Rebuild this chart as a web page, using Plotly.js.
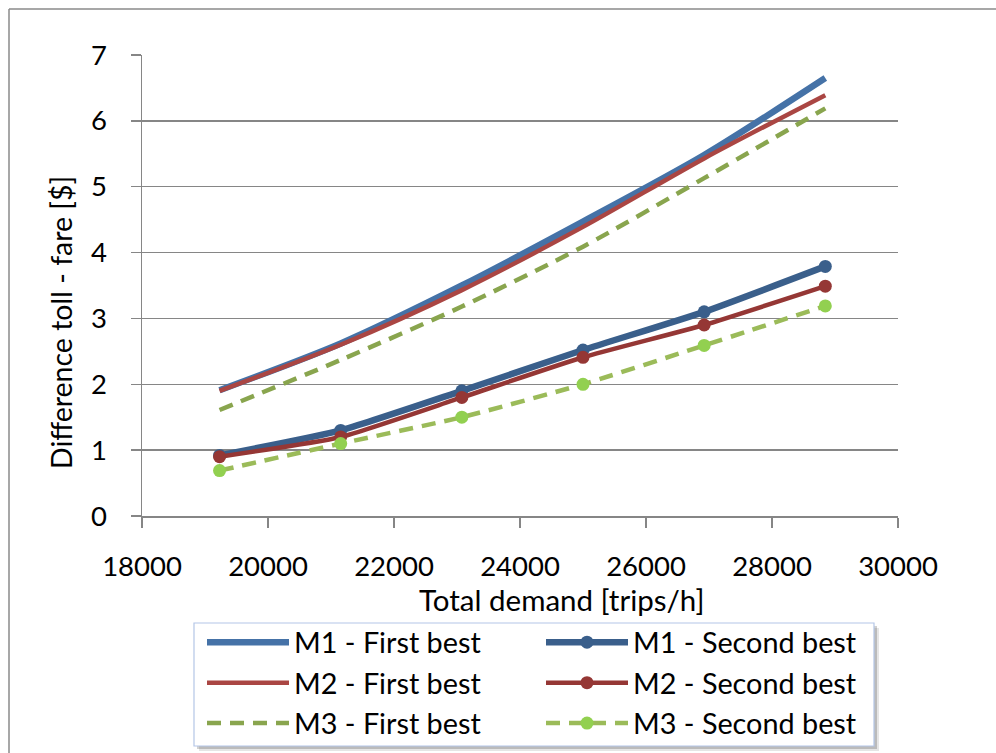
<!DOCTYPE html>
<html>
<head>
<meta charset="utf-8">
<script src="https://cdn.plot.ly/plotly-3.0.1.min.js"></script>
<style>
html,body{margin:0;padding:0;background:#fff;}
#chart{width:996px;height:753px;}
</style>
</head>
<body>
<div id="chart"></div>
<script>
// ---- data ----
const demand = [19231, 21154, 23077, 25000, 26923, 28846];
const m1First = [1.91, 2.62, 3.50, 4.47, 5.48, 6.65];
const m2First = [1.90, 2.60, 3.43, 4.39, 5.43, 6.39];
const m3First = [1.61, 2.37, 3.18, 4.09, 5.13, 6.19];
const m1Second = [0.92, 1.30, 1.90, 2.52, 3.10, 3.79];
const m2Second = [0.90, 1.20, 1.80, 2.41, 2.90, 3.49];
const m3Second = [0.69, 1.10, 1.50, 2.00, 2.59, 3.19];
const seriesNames = ["M1 - First best","M2 - First best","M3 - First best",
                     "M1 - Second best","M2 - Second best","M3 - Second best"];
const xTicks = [18000, 20000, 22000, 24000, 26000, 28000, 30000];
const yTicks = [0,1,2,3,4,5,6,7];

// ---- layout geometry (pixels) ----
const W = 996, H = 753;
const L = 142, R = 898, T = 55, B = 516;
const px = v => (v - L) / (R - L);
const py = v => (B - v) / (B - T);
const cx = v => v / W;
const cy = v => 1 - v / H;
const FONT = "Lato, 'Open Sans', sans-serif";

const traces = [
  {x: demand, y: m1First, name: seriesNames[0], mode: "lines", legend: "legend", legendgroup: "a",
   line: {color: "#4572A7", width: 6.5, shape: "spline", smoothing: 0.8}},
  {x: demand, y: m2First, name: seriesNames[1], mode: "lines", legend: "legend", legendgroup: "b",
   line: {color: "#AA4643", width: 4.5, shape: "spline", smoothing: 0.8}},
  {x: demand, y: m3First, name: seriesNames[2], mode: "lines", legend: "legend", legendgroup: "c",
   line: {color: "#89A54E", width: 4.5, dash: "14px,9px", shape: "spline", smoothing: 0.8}},
  {x: demand, y: m1Second, name: seriesNames[3], mode: "lines+markers", legend: "legend2", legendgroup: "d",
   line: {color: "#3A5F8B", width: 6.5, shape: "spline", smoothing: 0.5},
   marker: {color: "#3A5F8B", size: 13}},
  {x: demand, y: m2Second, name: seriesNames[4], mode: "lines+markers", legend: "legend2", legendgroup: "e",
   line: {color: "#953735", width: 4.5, shape: "spline", smoothing: 0.5},
   marker: {color: "#953735", size: 13}},
  {x: demand, y: m3Second, name: seriesNames[5], mode: "lines+markers", legend: "legend2", legendgroup: "f",
   line: {color: "#9BBB59", width: 4.5, dash: "14px,9px", shape: "spline", smoothing: 0.5},
   marker: {color: "#92D050", size: 13}}
];

const legendCommon = {
  orientation: "v", xanchor: "left", yanchor: "top",
  xref: "container", yref: "container",
  bgcolor: "rgba(0,0,0,0)", borderwidth: 0,
  font: {family: FONT, size: 28.8, color: "#000"},
  tracegroupgap: 9.5, itemwidth: 82, traceorder: "normal"
};

const layout = {
  width: W, height: H,
  margin: {l: L, r: W - R, t: T, b: H - B, pad: 0, autoexpand: false},
  paper_bgcolor: "#fff", plot_bgcolor: "#fff",
  font: {family: FONT, size: 27, color: "#000"},
  showlegend: true,
  legend: Object.assign({}, legendCommon, {x: cx(202), y: cy(617)}),
  legend2: Object.assign({}, legendCommon, {x: cx(541), y: cy(617)}),
  xaxis: {
    range: [18000, 30000], tickvals: xTicks, ticktext: xTicks.map(String),
    showgrid: false, zeroline: false,
    showline: true, linecolor: "#868686", linewidth: 1.5,
    ticks: "outside", ticklen: 10, tickwidth: 1.5, tickcolor: "#868686",
    ticklabelstandoff: 15,
    tickfont: {family: FONT, size: 27.5, color: "#000"}
  },
  yaxis: {
    range: [0, 7], tickvals: yTicks, ticktext: yTicks.map(String),
    showgrid: true, gridcolor: "#868686", gridwidth: 1.5, zeroline: false,
    showline: true, linecolor: "#868686", linewidth: 1.5,
    ticks: "outside", ticklen: 10, tickwidth: 1.5, tickcolor: "#868686",
    ticklabelstandoff: 18,
    tickfont: {family: FONT, size: 27.5, color: "#000"}
  },
  annotations: [
    {text: "Total demand [trips/h]", xref: "paper", yref: "paper",
     x: px(562), y: py(599), xanchor: "center", yanchor: "middle", showarrow: false,
     font: {family: FONT, size: 29.5, color: "#000"}},
    {text: "Difference toll - fare [$]", xref: "paper", yref: "paper",
     x: px(61), y: py(323), xanchor: "center", yanchor: "middle", showarrow: false, textangle: -90,
     font: {family: FONT, size: 28.5, color: "#000"}}
  ],
  shapes: [
    // outer frame (left and top)
    {type: "line", xref: "paper", yref: "paper", x0: px(9), x1: px(9), y0: py(9), y1: py(760),
     line: {color: "#8a8a8a", width: 1.5}},
    {type: "line", xref: "paper", yref: "paper", x0: px(9), x1: px(1000), y0: py(9), y1: py(9),
     line: {color: "#8a8a8a", width: 1.5}},
    // legend shadow
    {type: "rect", xref: "paper", yref: "paper", x0: px(199), x1: px(879), y0: py(628), y1: py(751),
     fillcolor: "rgba(0,0,0,0.10)", line: {width: 0}, layer: "below"},
    {type: "rect", xref: "paper", yref: "paper", x0: px(197), x1: px(877), y0: py(626), y1: py(749),
     fillcolor: "rgba(0,0,0,0.18)", line: {width: 0}, layer: "below"},
    // legend box
    {type: "rect", xref: "paper", yref: "paper", x0: px(194), x1: px(874), y0: py(623), y1: py(746),
     fillcolor: "#ffffff", line: {color: "#b4c6e7", width: 1.2}, layer: "below"}
  ]
};

Plotly.newPlot("chart", traces, layout, {staticPlot: true, displayModeBar: false});
</script>
</body>
</html>
